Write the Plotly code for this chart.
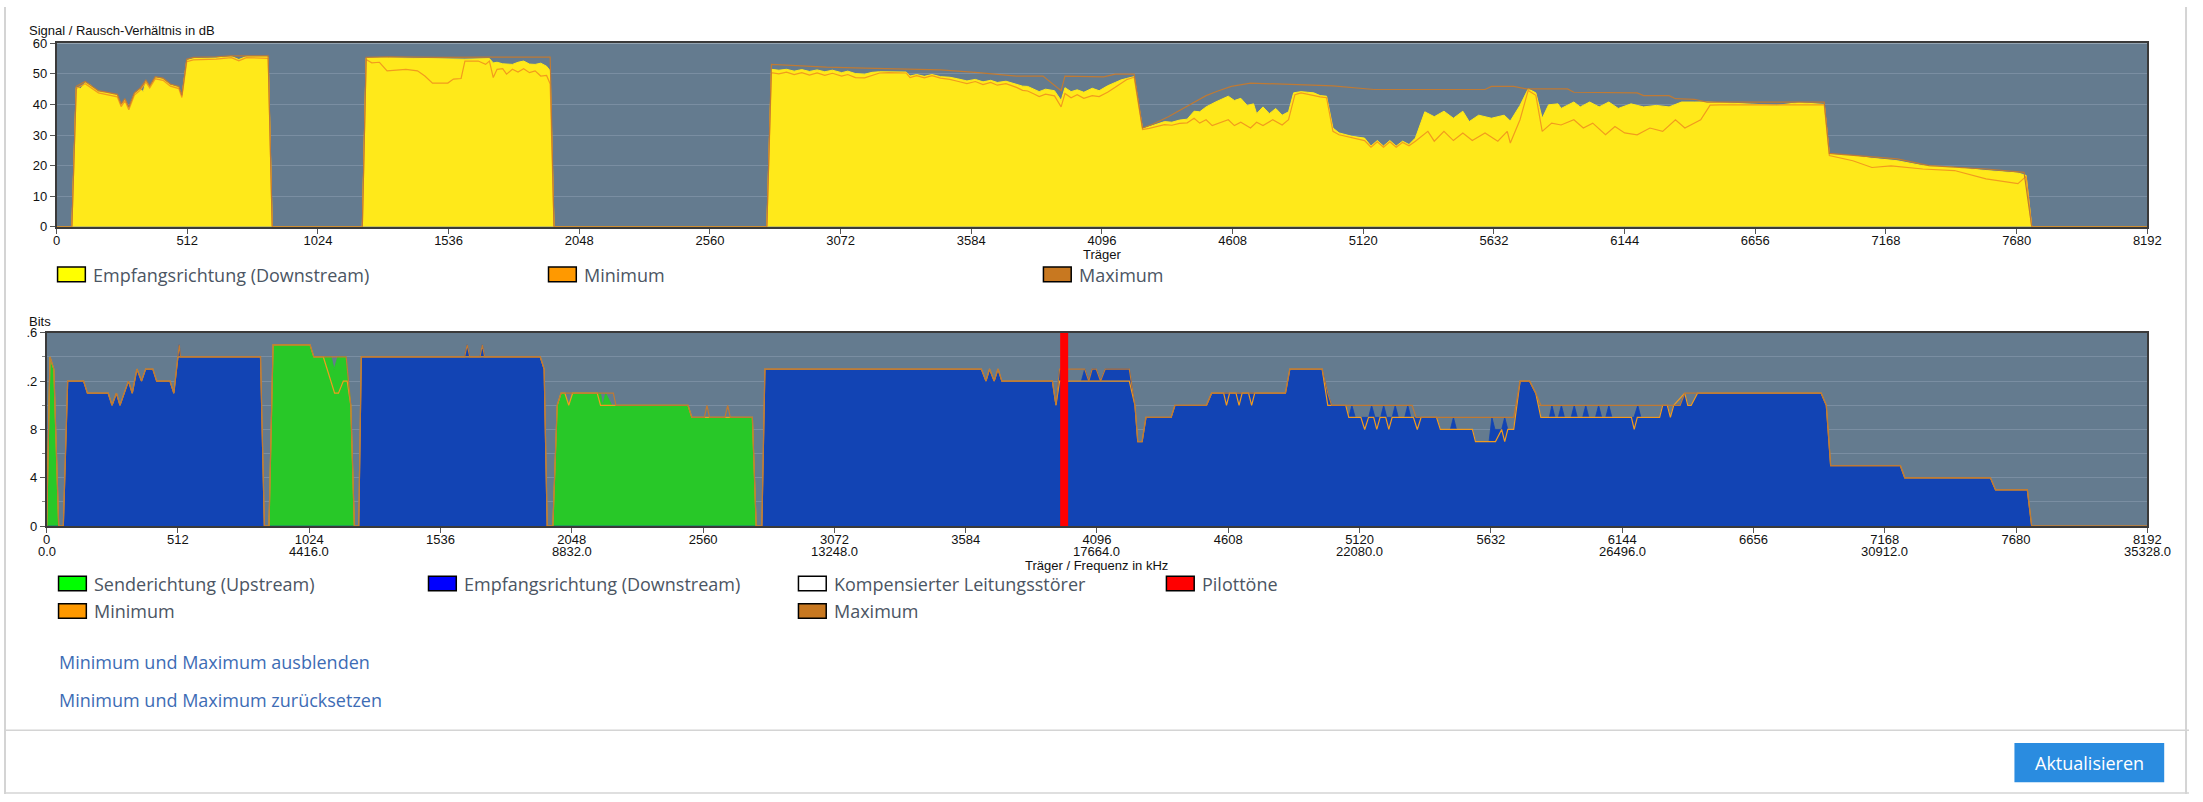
import plotly.graph_objects as go

W, H = 2203, 802

# ---------------- data (carrier, value) ----------------
carrier_ticks = [0, 512, 1024, 1536, 2048, 2560, 3072, 3584, 4096, 4608, 5120, 5632, 6144, 6656, 7168, 7680, 8192]
freq_tick_carriers = [0, 1024, 2048, 3072, 4096, 5120, 6144, 7168, 8192]
freq_labels = ["0.0", "4416.0", "8832.0", "13248.0", "17664.0", "22080.0", "26496.0", "30912.0", "35328.0"]
snr_ticks = [0, 10, 20, 30, 40, 50, 60]
bits_ticks = [0, 4, 8, 12, 16]
bits_ticktext = ["0", "4", "8", ".2", ".6"]

# SNR current (Empfangsrichtung / Downstream)
snr_ds = [(0, 0), (60, 0), (77, 45.6), (95, 45.2), (112, 47.2), (130, 46.5), (164, 44.2), (200, 43.8), (238, 43),
          (253, 39.7), (268, 41.6), (283, 38.7), (305, 43.5), (327, 45), (340, 44.2), (350, 47.7), (365, 45.8),
          (387, 48.8), (417, 48.3), (446, 46.4), (479, 45.6), (491, 42.7), (510, 54.4), (536, 55), (625, 55.2),
          (685, 55.7), (714, 54.7), (744, 55.7), (826, 55.7), (829, 55.5), (845, 0), (1198, 0), (1213, 55.2),
          (1300, 55.3), (1400, 55.1), (1500, 55), (1600, 54.8), (1696, 55), (1711, 53.6), (1726, 53.8),
          (1748, 53.3), (1786, 53.1), (1808, 53.8), (1830, 54.2), (1853, 53.2), (1875, 53.1), (1897, 53.5),
          (1920, 52.5), (1934, 51), (1949, 0), (2783, 0), (2801, 51.5), (2830, 51.2), (2860, 51.5), (2890, 50.9),
          (2920, 51.4), (2950, 50.8), (2980, 51.3), (3010, 50.7), (3040, 51.2), (3076, 50.4), (3100, 50.9),
          (3130, 50.1), (3166, 49.9), (3195, 50.5), (3225, 50.7), (3260, 50.7), (3329, 50.6), (3344, 49.3),
          (3370, 49.8), (3400, 49.2), (3430, 49.8), (3463, 49.1), (3500, 48.9), (3530, 48.4), (3567, 47.7),
          (3600, 48.2), (3630, 47.4), (3660, 47.9), (3686, 47.2), (3720, 47.6), (3761, 46.7), (3785, 46.0),
          (3805, 45.9), (3830, 45.0), (3850, 44.2), (3875, 45.0), (3910, 44.5), (3936, 41.3), (3951, 45.5),
          (3975, 44.2), (3999, 44.8), (4025, 44.0), (4058, 45.3), (4085, 44.5), (4118, 46.1), (4148, 47.2),
          (4170, 48.0), (4192, 48.5), (4222, 49.1), (4255, 32), (4281, 32.8), (4310, 33.6), (4341, 34.4),
          (4370, 34.2), (4400, 34.9), (4430, 35.2), (4457, 37.8), (4479, 37.6), (4504, 39.2), (4541, 40.8),
          (4591, 42.7), (4615, 41.3), (4640, 42.0), (4665, 39.7), (4690, 40.2), (4702, 37.0), (4727, 39.2),
          (4752, 37.0), (4777, 38.7), (4802, 36.5), (4827, 37.6), (4847, 43.8), (4876, 44.2), (4901, 44.0),
          (4926, 43.8), (4951, 42.9), (4976, 42.7), (5001, 32.3), (5025, 30.7), (5075, 29.6), (5125, 29.0),
          (5150, 26.4), (5175, 28.2), (5199, 26.4), (5224, 28.2), (5249, 26.4), (5274, 28.0), (5299, 26.9),
          (5324, 29.0), (5361, 37.6), (5398, 36.0), (5436, 37.8), (5473, 35.5), (5510, 37.8), (5535, 34.4),
          (5572, 36.5), (5622, 35.5), (5672, 36.5), (5696, 34.6), (5734, 39.7), (5766, 45.1), (5796, 43.8),
          (5821, 35.5), (5846, 39.9), (5883, 40.2), (5895, 38.7), (5945, 40.8), (5970, 39.2), (6007, 40.8),
          (6044, 39.2), (6082, 40.8), (6119, 38.7), (6169, 40.2), (6218, 39.2), (6268, 39.7), (6318, 39.2),
          (6367, 40.8), (6417, 40.8), (6467, 40.8), (6641, 40.1), (6740, 39.7), (6827, 40.6), (6926, 40.0),
          (6946, 23.7), (7038, 23.2), (7113, 22.4), (7212, 21.6), (7312, 20.0), (7436, 19.4), (7560, 18.4),
          (7685, 17.6), (7717, 16.8), (7739, 0), (8192, 0)]

snr_min = [(0, 0), (60, 0), (77, 45.2), (112, 46.8), (164, 43.8), (238, 42.5), (253, 39.3), (268, 41.2), (283, 38.3),
           (305, 43.1), (327, 44.6), (350, 47.3), (365, 45.4), (387, 48.4), (417, 47.9), (446, 46.0), (479, 45.2),
           (491, 42.3), (510, 54.0), (536, 54.6), (625, 54.8), (685, 55.3), (714, 54.3), (744, 55.3), (829, 55.1),
           (845, 0), (1198, 0), (1213, 54.7), (1235, 53.6), (1265, 53.8), (1295, 51.0), (1369, 51.5), (1414, 51.0),
           (1443, 49.3), (1473, 47.0), (1533, 47.0), (1555, 48.3), (1585, 48.5), (1600, 54.2), (1652, 54.2),
           (1681, 53.1), (1696, 54.2), (1711, 48.8), (1726, 51.5), (1748, 51.7), (1763, 49.9), (1786, 51.5),
           (1808, 50.6), (1830, 51.7), (1853, 50.4), (1875, 51.0), (1897, 49.3), (1920, 49.5), (1934, 46.7),
           (1949, 0), (2783, 0), (2801, 50.4), (2830, 50.0), (2860, 50.6), (2890, 49.8), (2920, 50.4), (2950, 49.6),
           (2980, 50.3), (3010, 49.5), (3040, 50.2), (3076, 49.3), (3100, 49.8), (3130, 48.8), (3166, 48.7),
           (3195, 49.6), (3225, 50.3), (3260, 50.4), (3329, 50.3), (3344, 48.8), (3370, 49.4), (3400, 48.7),
           (3430, 49.4), (3463, 48.6), (3500, 48.2), (3530, 47.6), (3567, 46.8), (3600, 47.5), (3630, 46.5),
           (3660, 47.2), (3686, 46.3), (3720, 46.8), (3761, 45.6), (3785, 44.6), (3805, 44.4), (3830, 43.4),
           (3850, 42.6), (3875, 43.4), (3910, 42.8), (3936, 39.2), (3951, 43.6), (3975, 42.2), (3999, 43.2),
           (4025, 42.0), (4058, 42.9), (4085, 42.6), (4118, 44.0), (4148, 45.6), (4170, 46.8), (4192, 48.1),
           (4222, 48.9), (4255, 31.8), (4281, 32.2), (4310, 32.8), (4341, 33.4), (4370, 33.2), (4400, 33.8),
           (4430, 34.0), (4457, 35.5), (4479, 33.9), (4504, 35.0), (4528, 33.1), (4553, 33.9), (4591, 35.0),
           (4615, 33.1), (4640, 34.2), (4678, 32.3), (4702, 34.2), (4727, 33.1), (4765, 35.0), (4802, 33.3),
           (4827, 35.0), (4852, 43.2), (4876, 43.8), (4951, 42.5), (4976, 42.2), (5001, 31.2), (5025, 30.1),
           (5125, 28.2), (5150, 26.0), (5175, 27.8), (5199, 26.0), (5224, 27.8), (5249, 26.0), (5274, 27.6),
           (5299, 26.5), (5324, 28.0), (5348, 29.6), (5373, 31.2), (5398, 28.0), (5436, 31.2), (5473, 28.2),
           (5510, 30.7), (5547, 28.2), (5597, 30.7), (5647, 28.0), (5684, 31.2), (5696, 27.4), (5734, 35.0),
           (5766, 44.6), (5796, 43.0), (5821, 31.2), (5858, 33.9), (5895, 33.3), (5945, 35.0), (5982, 32.3),
           (6019, 33.9), (6069, 30.1), (6106, 32.8), (6144, 30.7), (6193, 30.1), (6243, 32.3), (6293, 31.2),
           (6343, 35.0), (6380, 32.3), (6442, 35.0), (6479, 39.8), (6516, 39.9), (6926, 39.9), (6946, 23.3),
           (7038, 21.6), (7113, 19.4), (7188, 19.9), (7312, 18.9), (7436, 18.4), (7560, 15.7), (7685, 14.1),
           (7717, 16.5), (7739, 0), (8192, 0)]

snr_max = [(0, 0), (60, 0), (77, 45.9), (112, 47.5), (164, 44.5), (238, 43.3), (253, 40.1), (268, 41.9), (283, 39.1),
           (305, 43.8), (327, 45.3), (350, 48.0), (365, 46.1), (387, 49.1), (417, 48.6), (446, 46.7), (479, 45.9),
           (491, 43.0), (510, 54.8), (536, 55.4), (625, 55.6), (685, 55.9), (829, 55.9), (845, 0), (1198, 0),
           (1213, 55.4), (1300, 55.6), (1500, 55.4), (1700, 55.5), (1934, 55.5), (1949, 0), (2783, 0),
           (2801, 53.1), (2868, 52.8), (3017, 52.2), (3166, 51.9), (3463, 51.3), (3612, 50.4), (3761, 49.3),
           (3865, 49.3), (3936, 44.5), (3951, 49.3), (4103, 49.0), (4148, 49.9), (4222, 49.9), (4255, 32.3),
           (4297, 33.6), (4356, 36.0), (4457, 40.8), (4504, 42.9), (4553, 44.5), (4603, 45.9), (4678, 47.0),
           (5001, 46.1), (5162, 44.9), (5597, 44.9), (5622, 45.9), (5709, 45.9), (5759, 45.1), (5920, 45.1),
           (5945, 44.0), (6193, 43.8), (6218, 42.9), (6318, 42.9), (6343, 41.9), (6417, 41.7), (6467, 40.8),
           (6926, 40.8), (6946, 24.0), (7063, 23.2), (7212, 22.2), (7337, 20.0), (7560, 18.9), (7709, 17.8),
           (7739, 0), (8192, 0)]

# Bits per carrier
bits_us = [(0, 0), (13, 14), (28, 13), (47, 0), (867, 0), (883, 15), (1027, 15), (1042, 14), (1110, 14), (1121, 13),
           (1135, 14), (1168, 14), (1186, 10), (1200, 0), (1974, 0), (1991, 10), (2006, 11), (2021, 11), (2036, 10),
           (2051, 11), (2160, 11), (2168, 10), (2180, 11), (2204, 10), (2501, 10), (2516, 9), (2752, 9), (2767, 0)]

bits_ds = [(0, 0), (65, 0), (82, 12), (144, 12), (159, 11), (240, 11), (255, 10), (272, 11), (286, 10), (319, 12),
           (334, 11), (352, 13), (370, 12), (386, 13), (414, 13), (429, 12), (481, 12), (496, 11), (512, 14),
           (517, 15), (522, 14), (834, 14), (849, 0), (1217, 0), (1227, 14), (1630, 14), (1640, 15), (1650, 14),
           (1690, 14), (1699, 15), (1708, 14), (1925, 14), (1940, 13), (1952, 0), (2789, 0), (2801, 13), (3645, 13),
           (3663, 12), (3677, 13), (3695, 12), (3710, 13), (3725, 12), (3922, 12), (3936, 10), (3950, 13),
           (3983, 12), (4035, 12), (4048, 13), (4064, 12), (4077, 13), (4093, 13), (4110, 12), (4128, 13),
           (4222, 13), (4244, 10), (4255, 7), (4272, 7), (4287, 9), (4385, 9), (4400, 10), (4523, 10), (4543, 11),
           (4831, 11), (4848, 13), (4974, 13), (4996, 11), (5011, 10), (5066, 10), (5078, 9), (5090, 10), (5103, 9),
           (5155, 9), (5167, 10), (5180, 9), (5202, 9), (5214, 10), (5226, 9), (5247, 9), (5259, 10), (5271, 9),
           (5296, 9), (5308, 10), (5320, 9), (5420, 9), (5435, 8), (5474, 8), (5486, 9), (5498, 8), (5560, 8),
           (5572, 7), (5625, 7), (5636, 9), (5648, 8), (5674, 8), (5686, 9), (5698, 8), (5721, 8), (5746, 12),
           (5783, 12), (5807, 11), (5827, 9), (5860, 9), (5870, 10), (5882, 9), (5895, 9), (5907, 10), (5919, 9),
           (5945, 9), (5957, 10), (5969, 9), (5990, 9), (6002, 10), (6014, 9), (6040, 9), (6052, 10), (6064, 9),
           (6080, 9), (6092, 10), (6104, 9), (6190, 9), (6205, 10), (6217, 9), (6290, 9), (6302, 10), (6320, 10),
           (6332, 9), (6345, 10), (6370, 10), (6388, 11), (6400, 10), (6413, 10), (6438, 11), (6920, 11),
           (6940, 10), (6957, 5), (7229, 5), (7246, 4), (7580, 4), (7600, 3), (7724, 3), (7741, 0), (8192, 0)]

bits_min = [(0, 0), (13, 14), (28, 13), (47, 0), (65, 0), (82, 12), (144, 12), (159, 11), (240, 11), (255, 10),
            (272, 11), (286, 10), (319, 12), (334, 11), (352, 13), (370, 12), (386, 13), (414, 13), (429, 12),
            (481, 12), (496, 11), (512, 14), (834, 14), (849, 0), (867, 0), (883, 15), (1027, 15), (1042, 14),
            (1079, 14), (1123, 11), (1138, 11), (1157, 12), (1172, 12), (1186, 10), (1200, 0), (1217, 0),
            (1227, 14), (1925, 14), (1940, 13), (1952, 0), (1974, 0), (1991, 10), (2006, 11), (2021, 11),
            (2036, 10), (2051, 11), (2147, 11), (2160, 10), (2501, 10), (2516, 9), (2752, 9), (2767, 0), (2789, 0),
            (2801, 13), (3645, 13), (3663, 12), (3677, 13), (3695, 12), (3710, 13), (3725, 12), (3922, 12),
            (3936, 10), (3950, 12), (4048, 12), (4064, 12), (4222, 12), (4244, 10), (4255, 7), (4272, 7),
            (4287, 9), (4385, 9), (4400, 10), (4523, 10), (4543, 11), (4590, 11), (4601, 10), (4613, 11),
            (4638, 11), (4650, 10), (4662, 11), (4687, 11), (4699, 10), (4711, 11), (4831, 11), (4848, 13),
            (4974, 13), (4996, 10), (5066, 10), (5078, 9), (5125, 9), (5140, 8), (5155, 9), (5175, 9), (5187, 8),
            (5200, 9), (5222, 9), (5234, 8), (5247, 9), (5330, 9), (5345, 8), (5360, 9), (5420, 9), (5435, 8),
            (5560, 8), (5572, 7), (5650, 7), (5674, 8), (5686, 7), (5698, 8), (5721, 8), (5746, 12), (5783, 12),
            (5807, 11), (5827, 9), (6180, 9), (6191, 8), (6203, 9), (6290, 9), (6302, 10), (6320, 10), (6332, 9),
            (6345, 10), (6388, 11), (6400, 10), (6413, 10), (6438, 11), (6920, 11), (6940, 10), (6957, 5),
            (7229, 5), (7246, 4), (7580, 4), (7600, 3), (7724, 3), (7741, 0), (8192, 0)]

bits_max = [(0, 0), (13, 14), (28, 13), (47, 0), (65, 0), (82, 12), (144, 12), (159, 11), (240, 11), (255, 10),
            (272, 11), (286, 10), (319, 12), (334, 11), (352, 13), (370, 12), (386, 13), (414, 13), (429, 12),
            (481, 12), (496, 11), (512, 14), (517, 15), (522, 14), (834, 14), (849, 0), (867, 0), (883, 15),
            (1027, 15), (1042, 14), (1168, 14), (1186, 10), (1200, 0), (1217, 0), (1227, 14), (1630, 14),
            (1640, 15), (1650, 14), (1690, 14), (1699, 15), (1708, 14), (1925, 14), (1940, 13), (1952, 0),
            (1974, 0), (1991, 10), (2006, 11), (2210, 11), (2220, 10), (2501, 10), (2516, 9), (2565, 9), (2575, 10),
            (2585, 9), (2645, 9), (2656, 10), (2666, 9), (2752, 9), (2767, 0), (2789, 0), (2801, 13), (3645, 13),
            (3663, 12), (3677, 13), (3695, 12), (3710, 13), (3725, 12), (3922, 12), (3936, 10), (3950, 13),
            (4035, 13), (4048, 13), (4064, 12), (4077, 13), (4093, 13), (4110, 12), (4128, 13), (4222, 13),
            (4244, 10), (4255, 7), (4272, 7), (4287, 9), (4385, 9), (4400, 10), (4523, 10), (4543, 11), (4831, 11),
            (4848, 13), (4974, 13), (4996, 11), (5011, 10), (5325, 10), (5340, 9), (5721, 9), (5746, 12),
            (5783, 12), (5807, 11), (5827, 10), (6370, 10), (6388, 11), (6920, 11), (6940, 10), (6957, 5),
            (7229, 5), (7246, 4), (7580, 4), (7600, 3), (7724, 3), (7741, 0), (8192, 0)]

pilot_tones = [3968]
bits_max_scale = 16

# ---------------- styles ----------------
PLOT_BG = "#647b8f"
GRID = "#7a8ea2"
YELLOW = "#ffe91a"
MIN_C = "#f29b1e"
MAX_C = "#bf7a34"
BLUE = "#1244b4"
GREEN = "#28c828"
AXFONT = dict(family="Liberation Sans, Arial, sans-serif", size=13, color="#111111")
TXT = "#4b5563"
LINK = "#3d6cb5"
LFONT = "Open Sans, Noto Sans, sans-serif"


def px(x):
    return x / W


def py(y):
    return 1 - y / H


def xs(s):
    return [p[0] for p in s]


def ys(s):
    return [p[1] for p in s]


fig = go.Figure()

# top chart
fig.add_trace(go.Scatter(x=xs(snr_ds), y=ys(snr_ds), mode="lines", fill="tozeroy", fillcolor=YELLOW,
                         line=dict(color=YELLOW, width=1), xaxis="x", yaxis="y", hoverinfo="skip"))
fig.add_trace(go.Scatter(x=xs(snr_min), y=ys(snr_min), mode="lines", line=dict(color=MIN_C, width=1.2),
                         xaxis="x", yaxis="y", hoverinfo="skip"))
fig.add_trace(go.Scatter(x=xs(snr_max), y=ys(snr_max), mode="lines", line=dict(color=MAX_C, width=1.2),
                         xaxis="x", yaxis="y", hoverinfo="skip"))

# bottom chart
fig.add_trace(go.Scatter(x=xs(bits_us), y=ys(bits_us), mode="lines", fill="tozeroy", fillcolor=GREEN,
                         line=dict(color=GREEN, width=0.8), xaxis="x2", yaxis="y2", hoverinfo="skip"))
fig.add_trace(go.Scatter(x=xs(bits_ds), y=ys(bits_ds), mode="lines", fill="tozeroy", fillcolor=BLUE,
                         line=dict(color=BLUE, width=0.8), xaxis="x2", yaxis="y2", hoverinfo="skip"))
fig.add_trace(go.Scatter(x=xs(bits_min), y=ys(bits_min), mode="lines", line=dict(color=MIN_C, width=1.2),
                         xaxis="x2", yaxis="y2", hoverinfo="skip"))
fig.add_trace(go.Scatter(x=xs(bits_max), y=ys(bits_max), mode="lines", line=dict(color=MAX_C, width=1.2),
                         xaxis="x2", yaxis="y2", hoverinfo="skip"))
for pt in pilot_tones:
    fig.add_trace(go.Scatter(x=[pt, pt], y=[0, bits_max_scale], mode="lines", line=dict(color="#ff0000", width=8),
                             xaxis="x2", yaxis="y2", hoverinfo="skip"))

axis_common = dict(showline=True, mirror=True, linecolor="#3a3a3a", linewidth=1.5, ticks="outside",
                   ticklen=5, tickcolor="#555555", tickfont=AXFONT, zeroline=False, fixedrange=True)

fig.update_layout(
    width=W, height=H, margin=dict(l=0, r=0, t=0, b=0), showlegend=False,
    paper_bgcolor="white", plot_bgcolor=PLOT_BG,
    xaxis=dict(domain=[px(53), px(2161)], range=[0, 8192], anchor="y", tickvals=carrier_ticks,
               showgrid=False, ticklabelstandoff=-4, **axis_common),
    yaxis=dict(domain=[py(224), py(37)], range=[0, 60], anchor="x", tickvals=snr_ticks,
               showgrid=True, gridcolor=GRID, gridwidth=1, **axis_common),
    xaxis2=dict(domain=[px(43), px(2161)], range=[0, 8192], anchor="y2", tickvals=carrier_ticks,
                showgrid=False, ticklabelstandoff=-4, **axis_common),
    yaxis2=dict(domain=[py(529), py(332)], range=[0, 16], anchor="x2", tickvals=bits_ticks,
                ticktext=bits_ticktext, showgrid=True, gridcolor=GRID, gridwidth=1,
                minor=dict(tickvals=[2, 6, 10, 14], ticks="outside", ticklen=3, tickcolor="#888888",
                           showgrid=True, gridcolor=GRID, gridwidth=1), **axis_common),
)

ann = []
shapes = []


def text(x, y, s, size=13, color="#111111", family=AXFONT["family"], xanchor="left"):
    ann.append(dict(x=px(x), y=py(y), xref="paper", yref="paper", text=s, showarrow=False,
                    xanchor=xanchor, yanchor="middle", font=dict(size=size, color=color, family=family)))


def box(x0, y0, x1, y1, fill, line="#000000", lw=1.5):
    shapes.append(dict(type="rect", xref="paper", yref="paper", x0=px(x0), x1=px(x1), y0=py(y1), y1=py(y0),
                       fillcolor=fill, line=dict(color=line, width=lw), layer="above"))


# frequency labels under the carrier ticks of the bits chart (placed on the x2 scale)
for c, lab in zip(freq_tick_carriers, freq_labels):
    ann.append(dict(x=c, y=py(555), xref="x2", yref="paper", text=lab, showarrow=False,
                    xanchor="center", yanchor="middle", font=AXFONT))

# titles
text(23, 24, "Signal / Rausch-Verhältnis in dB")
text(1107, 252, "Träger", xanchor="center")
text(23, 320, "Bits")
text(1102, 569, "Träger / Frequenz in kHz", xanchor="center")

# top legend
top_leg = [(54, "#ffff00", "Empfangsrichtung (Downstream)"), (549, "#ff9900", "Minimum"),
           (1048, "#c87820", "Maximum")]
for x0, c, s in top_leg:
    box(x0, 265, x0 + 28, 280, c)
    text(x0 + 34, 273, s, size=18, color=TXT, family=LFONT)

# bottom legend
bot_leg = [(55, 588, "#00ff00", "Senderichtung (Upstream)"), (428, 588, "#0000ff", "Empfangsrichtung (Downstream)"),
           (801, 588, "#ffffff", "Kompensierter Leitungsstörer"), (1172, 588, "#ff0000", "Pilottöne"),
           (55, 616, "#ff9900", "Minimum"), (801, 616, "#c87820", "Maximum")]
for x0, yc, c, s in bot_leg:
    box(x0, yc - 8, x0 + 28, yc + 7, c)
    text(x0 + 34, yc, s, size=18, color=TXT, family=LFONT)

# links
text(53, 667, "Minimum und Maximum ausblenden", size=18, color=LINK, family=LFONT)
text(53, 706, "Minimum und Maximum zurücksetzen", size=18, color=LINK, family=LFONT)

# page frame
shapes.append(dict(type="line", xref="paper", yref="paper", x0=0, x1=1, y0=py(737), y1=py(737),
                   line=dict(color="#d4d4d4", width=1.5)))
shapes.append(dict(type="line", xref="paper", yref="paper", x0=0, x1=1, y0=py(801), y1=py(801),
                   line=dict(color="#d4d4d4", width=1.5)))
shapes.append(dict(type="line", xref="paper", yref="paper", x0=px(1), x1=px(1), y0=0, y1=1,
                   line=dict(color="#d4d4d4", width=2)))
shapes.append(dict(type="line", xref="paper", yref="paper", x0=px(2200), x1=px(2200), y0=0, y1=1,
                   line=dict(color="#d4d4d4", width=2)))

# button
box(2027, 750, 2178, 790, "#2a8ce0", line="#2a8ce0", lw=0)
text(2102.5, 770, "Aktualisieren", size=18, color="#ffffff", family=LFONT, xanchor="center")

fig.update_layout(annotations=ann, shapes=shapes)
fig.write_html("out.html", config={"displayModeBar": False},
               post_script="document.body.style.margin='0';document.body.style.overflow='hidden';")
